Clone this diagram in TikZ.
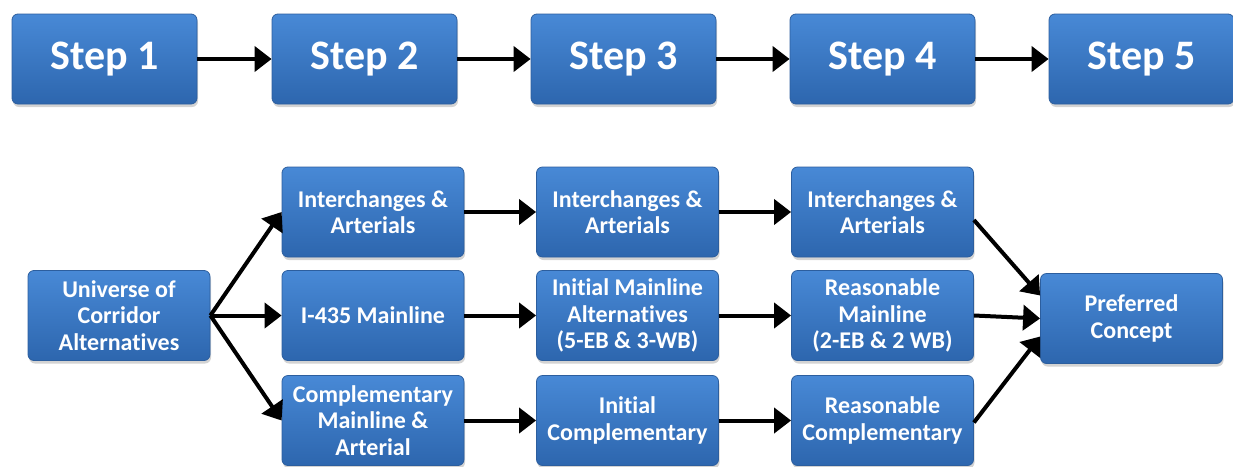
\documentclass[tikz,border=0pt]{standalone}
\usepackage{fontspec}
\setmainfont{Carlito}[Ligatures={NoCommon}]
\usepackage{tikz}
\usetikzlibrary{arrows.meta,shadows}
\definecolor{boxtop}{HTML}{4889D6}
\definecolor{boxbot}{HTML}{2D66AE}
\definecolor{boxedge}{HTML}{2C5E9E}
\tikzset{
box/.style={rectangle, rounded corners=6pt, draw=boxedge, line width=0.8pt,
  top color=boxtop, bottom color=boxbot, text=white, align=center, inner sep=0pt,
  drop shadow={opacity=0.35, shadow xshift=1pt, shadow yshift=-3pt}},
stepbox/.style={box, minimum width=185pt, minimum height=90pt,
  font=\fontsize{42}{48}\selectfont\bfseries},
taskbox/.style={box, minimum width=182pt, minimum height=90pt,
  font=\fontsize{24}{26.5}\selectfont\bfseries},
flow/.style={line width=4pt, -{Triangle[length=17pt,width=25pt]}}
}

\begin{document}
\begin{tikzpicture}[x=1pt,y=-1pt]
\useasboundingbox (0,0) rectangle (1233,466);

% steps
\node[stepbox] (s1) at (104.5,59) {Step 1};
\node[stepbox] (s2) at (364.5,59) {Step 2};
\node[stepbox] (s3) at (623.5,59) {Step 3};
\node[stepbox] (s4) at (882.5,59) {Step 4};
\node[stepbox] (s5) at (1141.5,59) {Step 5};

\draw[flow] (s1) -- (s2);
\draw[flow] (s2) -- (s3);
\draw[flow] (s3) -- (s4);
\draw[flow] (s4) -- (s5);

% alternatives
\node[taskbox] (u) at (119,315.5) {Universe of\\Corridor\\Alternatives};
\node[taskbox] (a2) at (373,212) {Interchanges \&\\Arterials};
\node[taskbox] (m2) at (373,315.5) {I-435 Mainline};
\node[taskbox] (c2) at (373,420.5) {Complementary\\Mainline \&\\Arterial};
\node[taskbox] (a3) at (627.5,212) {Interchanges \&\\Arterials};
\node[taskbox] (m3) at (627.5,315.5) {Initial Mainline\\Alternatives\\(5-EB \& 3-WB)};
\node[taskbox] (c3) at (627.5,420.5) {Initial\\Complementary};
\node[taskbox] (a4) at (882.5,212) {Interchanges \&\\Arterials};
\node[taskbox] (m4) at (882.5,315.5) {Reasonable\\Mainline\\(2-EB \& 2 WB)};
\node[taskbox] (c4) at (882.5,420.5) {Reasonable\\Complementary};
\node[taskbox] (p) at (1131.5,318.5) {Preferred\\Concept};

\draw[flow] (u.east) -- (a2.west);
\draw[flow] (u.east) -- (m2.west);
\draw[flow] (u.east) -- (c2.west);
\draw[flow] (a2) -- (a3);
\draw[flow] (m2) -- (m3);
\draw[flow] (c2) -- (c3);
\draw[flow] (a3) -- (a4);
\draw[flow] (m3) -- (m4);
\draw[flow] (c3) -- (c4);
\draw[flow] ([yshift=-8pt]a4.east) -- ([yshift=23pt]p.west);
\draw[flow] (m4.east) -- (p.west);
\draw[flow] ([yshift=-2pt]c4.east) -- ([yshift=-18pt]p.west);
\end{tikzpicture}
\end{document}
